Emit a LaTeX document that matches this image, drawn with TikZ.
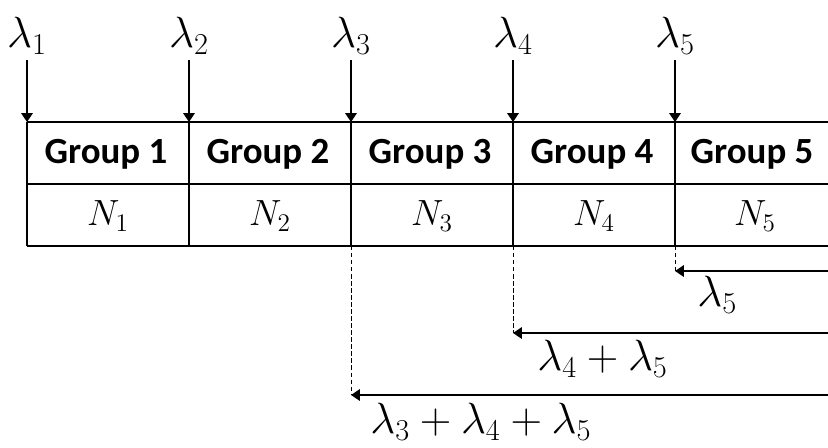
\documentclass[tikz,border=0pt]{standalone}
\usepackage{amsmath,amssymb}
\usepackage{fontspec}
\setmainfont{Carlito}
\usepackage{tikz}
\usetikzlibrary{arrows.meta,positioning,calc}

\tikzset{
  grp/.style={font=\fontsize{21}{25}\selectfont\bfseries, inner sep=0pt},
  cnt/.style={font=\fontsize{22}{26}\selectfont, inner sep=0pt},
  lam/.style={font=\fontsize{23}{27}\selectfont, inner sep=0pt},
  arr/.style={line width=0.8pt, -{Triangle[width=6.5pt,length=5pt]}},
  grid/.style={line width=1.1pt},
  guide/.style={line width=0.5pt, dash pattern=on 2.5pt off 1.5pt}
}

\begin{document}
\begin{tikzpicture}[x=0.02cm, y=-0.02cm]
		\useasboundingbox (0,0) rectangle (828,447);
		% table
		\draw[grid] (27,122) -- (828,122);
		\draw[grid] (27,184) -- (828,184);
		\draw[grid] (27,246) -- (828,246);
		\draw[grid] (27,122) -- (27,246);
		\draw[grid] (189,122) -- (189,246);
		\draw[grid] (351,122) -- (351,246);
		\draw[grid] (513,122) -- (513,246);
		\draw[grid] (675,122) -- (675,246);
		\node[grp] (g1) at (106,154) {Group 1};
		\node[grp] (g2) at (268,154) {Group 2};
		\node[grp] (g3) at (430,154) {Group 3};
		\node[grp] (g4) at (592,154) {Group 4};
		\node[grp] (g5) at (752,154) {Group 5};
		\node[cnt] (n1) at (108,216) {$N_1$};
		\node[cnt] (n2) at (270,216) {$N_2$};
		\node[cnt] (n3) at (432,216) {$N_3$};
		\node[cnt] (n4) at (594,216) {$N_4$};
		\node[cnt] (n5) at (755,216) {$N_5$};
		% arrival rates
		\node[lam] (l1) at (27,36) {$\lambda_1$};
		\node[lam] (l2) at (189,36) {$\lambda_2$};
		\node[lam] (l3) at (351,36) {$\lambda_3$};
		\node[lam] (l4) at (513,36) {$\lambda_4$};
		\node[lam] (l5) at (675,36) {$\lambda_5$};
		\coordinate (s1) at (27,60);
		\coordinate (s2) at (189,60);
		\coordinate (s3) at (351,60);
		\coordinate (s4) at (513,60);
		\coordinate (s5) at (675,60);
		\coordinate (t1) at (27,122);
		\coordinate (t2) at (189,122);
		\coordinate (t3) at (351,122);
		\coordinate (t4) at (513,122);
		\coordinate (t5) at (675,122);
		\draw[arr] (s1) -- (t1);
		\draw[arr] (s2) -- (t2);
		\draw[arr] (s3) -- (t3);
		\draw[arr] (s4) -- (t4);
		\draw[arr] (s5) -- (t5);
		% cumulative rates
		\coordinate (b3) at (351,246);
		\coordinate (b4) at (513,246);
		\coordinate (b5) at (675,246);
		\coordinate (a3) at (351,395);
		\coordinate (a4) at (513,333);
		\coordinate (a5) at (675,271);
		\coordinate (r3) at (828,395);
		\coordinate (r4) at (828,333);
		\coordinate (r5) at (828,271);
		\draw[guide] (b3) -- (a3);
		\draw[guide] (b4) -- (a4);
		\draw[guide] (b5) -- (a5);
		\draw[arr] (r5) -- (a5);
		\draw[arr] (r4) -- (a4);
		\draw[arr] (r3) -- (a3);
		\node[lam, anchor=north west] (c5) at (697,276) {$\lambda_5$};
		\node[lam, anchor=north west] (c4) at (537,340) {$\lambda_4+\lambda_5$};
		\node[lam, anchor=north west] (c3) at (370,403) {$\lambda_3+\lambda_4+\lambda_5$};
	\end{tikzpicture}
\end{document}
